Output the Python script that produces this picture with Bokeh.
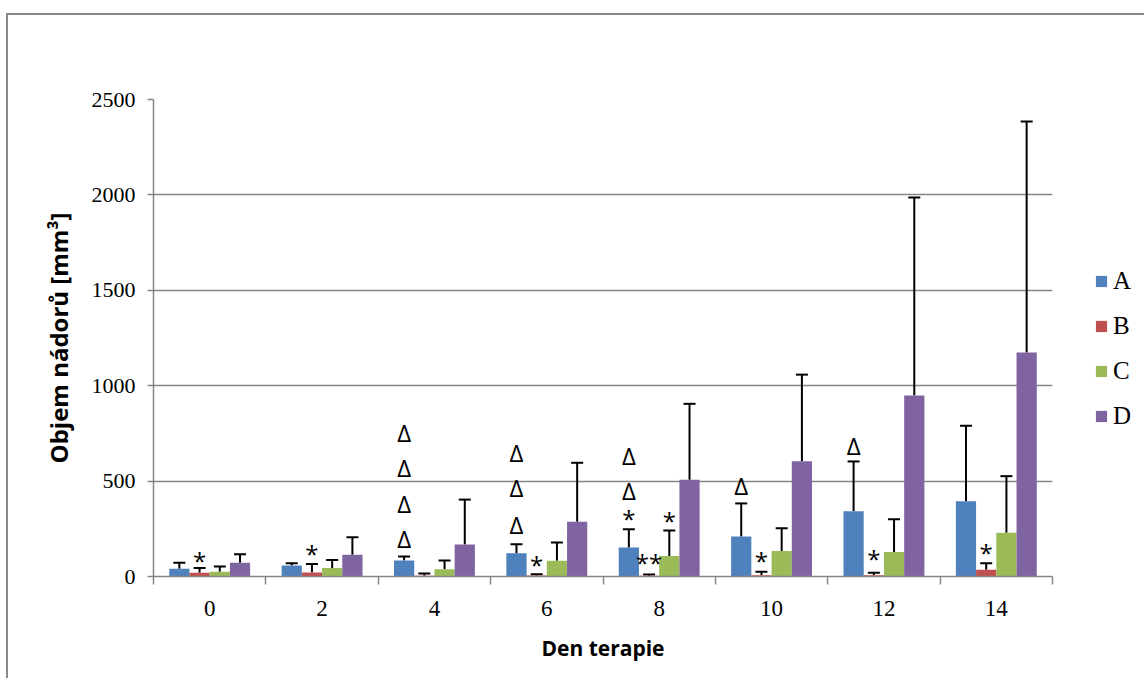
import numpy as np
from bokeh.plotting import figure
from bokeh.layouts import row
from bokeh.models import (Range1d, FixedTicker, Whisker, ColumnDataSource,
                          Legend, LegendItem, TeeHead)
from bokeh.core.properties import value
from bokeh.embed import file_html
from bokeh.resources import INLINE

# ---------------- data ----------------
days = ["0", "2", "4", "6", "8", "10", "12", "14"]
series = ["A", "B", "C", "D"]
colors = ["#4F81BD", "#C0504D", "#9BBB59", "#8064A2"]

a_mean = [40, 58, 84, 122, 152, 210, 342, 395]
a_sd = [32, 12, 21, 47, 96, 173, 261, 395]
b_mean = [19, 21, 4, 5, 4, 7, 6, 35]
b_sd = [25, 44, 12, 7, 6, 18, 13, 35]
c_mean = [25, 44, 38, 82, 108, 133, 128, 229]
c_sd = [27, 42, 46, 96, 133, 120, 172, 297]
d_mean = [72, 114, 168, 287, 507, 604, 949, 1174]
d_sd = [45, 92, 235, 309, 398, 454, 1037, 1211]

means = [a_mean, b_mean, c_mean, d_mean]
sds = [a_sd, b_sd, c_sd, d_sd]

# significance marks (day index, series index, value-level of mark)
delta_day = [2, 2, 2, 2, 3, 3, 3, 4, 4, 5, 6]
delta_series = [0] * 11
delta_y = [757, 573, 384, 198, 651, 465, 272, 634, 451, 477, 687]

star_day = [0, 1, 3, 4, 4, 4, 5, 6, 7]
star_series = [1, 1, 1, 1, 0, 2, 1, 1, 1]
star_text = ["*", "*", "*", "**", "*", "*", "*", "*", "*"]
star_y = [101, 136, 79, 88, 320, 311, 101, 110, 141]

# ---------------- layout / style ----------------
BAR_W = 0.18
offsets = [-1.5 * BAR_W, -0.5 * BAR_W, 0.5 * BAR_W, 1.5 * BAR_W]
AXIS_COL = "#868686"
SERIF = "Liberation Serif"
SANS = "Open Sans"
H = 663

p = figure(width=1048, height=H, output_backend="svg", toolbar_location=None,
           x_range=Range1d(-0.5, len(days) - 0.5), y_range=Range1d(0, 2500),
           min_border_left=145, min_border_right=4, min_border_top=84,
           min_border_bottom=102, outline_line_color=None)

idx = np.arange(len(days))
for k, name in enumerate(series):
    xs = idx + offsets[k]
    src = ColumnDataSource(dict(x=xs, top=means[k],
                                upper=np.array(means[k]) + np.array(sds[k])))
    p.vbar(x="x", top="top", width=BAR_W, source=src,
           fill_color=colors[k], line_color=None)
    w = Whisker(source=src, base="x", lower="top", upper="upper",
                dimension="height", line_color="black", line_width=2,
                upper_head=TeeHead(size=12, line_color="black", line_width=2),
                lower_head=None)
    p.add_layout(w)

# marks
dx = np.array(delta_day) + np.array([offsets[s] for s in delta_series])
p.text(x=dx, y=delta_y, text=["Δ"] * len(delta_y), text_font=value(SANS),
       text_font_size="24px", text_align="center", text_baseline="middle",
       text_color="black")
sx = np.array(star_day) + np.array([offsets[s] for s in star_series])
p.text(x=sx, y=star_y, text=star_text, text_font=value(SANS),
       text_font_size="24px", text_align="center", text_baseline="middle",
       y_offset=3, text_color="black")

# axes
xa = p.xaxis[0]
xa.ticker = FixedTicker(ticks=list(idx), minor_ticks=[i - 0.5 for i in range(len(days) + 1)])
xa.major_label_overrides = {int(i): d for i, d in zip(idx, days)}
xa.major_tick_line_color = None
xa.minor_tick_in = 0
xa.minor_tick_out = 8
xa.minor_tick_line_color = AXIS_COL
xa.minor_tick_line_width = 1.5
xa.axis_line_color = AXIS_COL
xa.axis_line_width = 1.5
xa.major_label_text_font = SERIF
xa.major_label_text_font_size = "23px"
xa.major_label_text_color = "black"
xa.major_label_standoff = 16
xa.axis_label = "Den terapie"
xa.axis_label_text_font = SANS
xa.axis_label_text_font_style = "bold"
xa.axis_label_text_font_size = "21px"
xa.axis_label_text_color = "black"
xa.axis_label_standoff = 15

ya = p.yaxis[0]
ya.ticker = FixedTicker(ticks=[0, 500, 1000, 1500, 2000, 2500])
ya.minor_tick_line_color = None
ya.major_tick_in = 0
ya.major_tick_out = 6
ya.major_tick_line_color = AXIS_COL
ya.major_tick_line_width = 1.5
ya.axis_line_color = AXIS_COL
ya.axis_line_width = 1.5
ya.major_label_text_font = SERIF
ya.major_label_text_font_size = "22px"
ya.major_label_text_color = "black"
ya.major_label_standoff = 12
ya.axis_label = "Objem nádorů [mm³]"
ya.axis_label_text_font = SANS
ya.axis_label_text_font_style = "bold"
ya.axis_label_text_font_size = "24px"
ya.axis_label_text_color = "black"
ya.axis_label_standoff = 14

p.xgrid.grid_line_color = None
p.ygrid.grid_line_color = AXIS_COL
p.ygrid.grid_line_width = 1.5

# legend panel: small figure with hidden proxy bars, so only its legend shows
pl = figure(width=88, height=H, output_backend="svg", toolbar_location=None,
            x_range=Range1d(-0.5, len(days) - 0.5), y_range=Range1d(0, 2500),
            min_border=0, outline_line_color=None)
pl.axis.visible = False
pl.grid.visible = False
items = []
for k, name in enumerate(series):
    rr = pl.vbar(x=idx + offsets[k], top=means[k], width=BAR_W,
                 fill_color=colors[k], line_color=None)
    rr.visible = False
    items.append(LegendItem(label=name, renderers=[rr]))
legend = Legend(items=items, location=(38, 145), glyph_width=14, glyph_height=14,
                label_standoff=5, label_height=30, spacing=15, padding=0, margin=0,
                border_line_color=None, background_fill_alpha=0,
                inactive_fill_alpha=0, click_policy="none",
                label_text_font=SERIF, label_text_font_size="25px",
                label_text_color="black")
pl.add_layout(legend, "center")

layout = row(p, pl, spacing=0)
layout.styles = {"margin-left": "6px", "margin-top": "13px",
                 "border-left": "2px solid #898989", "border-top": "2px solid #898989"}

open("out.html", "w").write(file_html(layout, INLINE))
